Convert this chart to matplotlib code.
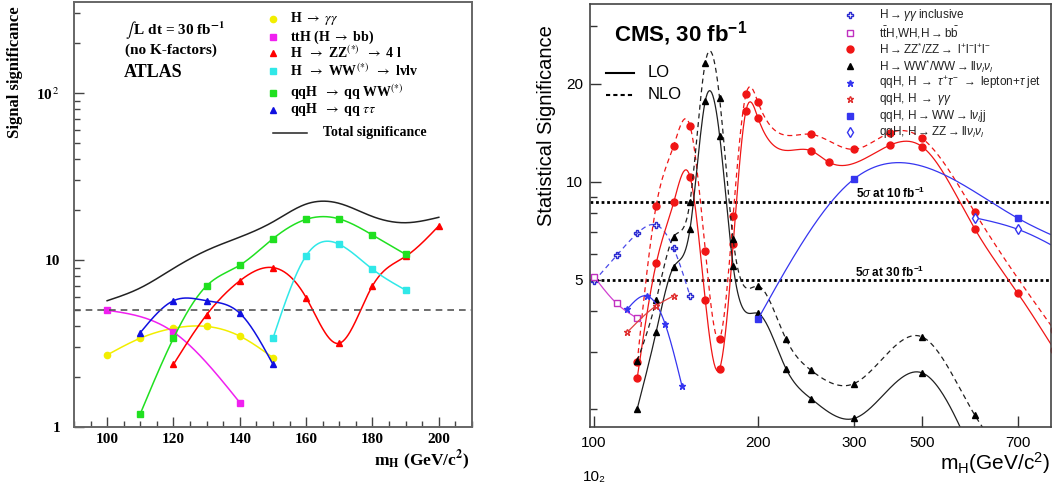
import matplotlib
matplotlib.use('Agg')

import numpy as np
import matplotlib.pyplot as plt
from matplotlib.ticker import LogLocator, NullFormatter, NullLocator, MultipleLocator

plt.rcParams['font.family'] = ['Liberation Sans', 'DejaVu Sans']
plt.rcParams['mathtext.fontset'] = 'custom'
plt.rcParams['mathtext.rm'] = 'Liberation Sans'
plt.rcParams['mathtext.it'] = 'Liberation Sans:italic'
plt.rcParams['mathtext.bf'] = 'Liberation Sans:bold'

# ---------------- ATLAS (left) data ----------------
gg_x = [100, 110, 120, 130, 140, 150]
gg_y = [2.7, 3.4, 3.9, 4.0, 3.5, 2.6]
tth_x = [100, 120, 140]
tth_y = [5.0, 3.7, 1.4]
zz_x = [120, 130, 140, 150, 160, 170, 180, 190, 200]
zz_y = [2.37, 4.7, 7.5, 9.0, 5.95, 3.17, 7.0, 10.5, 16.0]
ww_x = [150, 160, 170, 180, 190]
ww_y = [3.4, 10.6, 12.4, 8.8, 6.6]
qqww_x = [110, 120, 130, 140, 150, 160, 170, 180, 190]
qqww_y = [1.2, 3.4, 7.0, 9.3, 13.4, 17.5, 17.6, 14.1, 10.8]
qqtt_x = [110, 120, 130, 140, 150]
qqtt_y = [3.67, 5.7, 5.7, 4.8, 2.37]
total_x = [100, 110, 120, 130, 140, 150, 160, 170, 180, 190, 200]
total_y = [5.7, 6.8, 8.9, 11.4, 13.7, 16.9, 21.6, 21.8, 18.2, 16.7, 18.0]

# ---------------- CMS (right) data ----------------
c_gginc_x = [100, 110, 120, 130, 140, 150]
c_gginc_y = [4.95, 5.94, 6.94, 7.36, 6.24, 4.46]
c_tthbb_x = [100, 110, 120]
c_tthbb_y = [5.11, 4.23, 3.81]
c_zz_lo_x = [120, 130, 140, 150, 160, 170, 180, 190, 200, 250, 270, 350, 400, 500, 600, 700]
c_zz_lo_y = [2.50, 5.61, 8.64, 10.36, 4.33, 2.67, 6.44, 16.5, 15.66, 12.45, 11.47, 12.96, 12.81, 7.16, 4.54, 3.05]
c_zz_nlo_x = [120, 130, 140, 150, 160, 170, 180, 190, 200, 250, 300, 350, 400, 500, 700]
c_zz_nlo_y = [2.8, 8.44, 12.9, 14.83, 6.14, 3.3, 7.85, 18.55, 17.5, 13.98, 12.57, 14.15, 13.59, 8.05, 3.5]
c_ww_lo_x = [120, 130, 140, 150, 160, 170, 180, 200, 225, 250, 300, 400, 500]
c_ww_lo_y = [2.01, 3.46, 5.48, 7.16, 17.7, 13.85, 5.52, 3.94, 2.67, 2.16, 1.876, 2.59, 1.4]
c_ww_nlo_x = [120, 130, 140, 150, 160, 170, 180, 200, 225, 250, 300, 400, 500, 600]
c_ww_nlo_y = [2.82, 4.33, 6.78, 8.68, 23.2, 18.0, 6.65, 4.78, 3.29, 2.64, 2.40, 3.34, 1.92, 1.3]
c_tau_x = [115, 125, 135, 145]
c_tau_y = [4.06, 4.46, 3.66, 2.36]
c_qqgg_x = [115, 130, 140]
c_qqgg_y = [3.45, 4.16, 4.46]
c_qqww_x = [200, 300, 600, 800]
c_qqww_y = [3.79, 10.19, 7.72, 6.2]
c_qqzz_x = [500, 600, 800]
c_qqzz_y = [7.75, 7.14, 5.53]

cms_xticks = [100, 200, 300, 400, 600]
cms_xlabels = ['100', '200', '300', '500', '700']


def smooth(x, y, logx=False, n=300):
    # natural cubic spline through the points, drawn in the axis coordinates
    u = np.log10(x) if logx else np.asarray(x, float)
    v = np.log10(y)
    k = len(u)
    if k < 3:
        return np.asarray(x), np.asarray(y)
    h = np.diff(u)
    A = np.zeros((k, k))
    r = np.zeros(k)
    A[0, 0] = A[-1, -1] = 1
    for i in range(1, k - 1):
        A[i, i - 1] = h[i - 1]
        A[i, i] = 2 * (h[i - 1] + h[i])
        A[i, i + 1] = h[i]
        r[i] = 3 * ((v[i + 1] - v[i]) / h[i] - (v[i] - v[i - 1]) / h[i - 1])
    c = np.linalg.solve(A, r)
    b = (v[1:] - v[:-1]) / h - h * (2 * c[:-1] + c[1:]) / 3
    d = (c[1:] - c[:-1]) / (3 * h)
    uu = np.linspace(u[0], u[-1], n)
    idx = np.clip(np.searchsorted(u, uu) - 1, 0, k - 2)
    t = uu - u[idx]
    vv = v[idx] + b[idx] * t + c[idx] * t ** 2 + d[idx] * t ** 3
    xx = 10 ** uu if logx else uu
    return xx, 10 ** vv


fig = plt.figure(figsize=(10.58, 4.86), dpi=100)

# ================= left panel =================
axL = fig.add_axes([0.0699, 0.1214, 0.3762, 0.8745])
axL.set_yscale('log')
axL.set_xlim(90, 210)
axL.set_ylim(1, 350)

serif = dict(family='Liberation Serif', weight='bold', math_fontfamily='stix')

atlas_series = [
    (gg_x, gg_y, '#f2ee00', 'o'),
    (tth_x, tth_y, '#f020f0', 's'),
    (zz_x, zz_y, '#ff0000', '^'),
    (ww_x, ww_y, '#30e8e8', 's'),
    (qqww_x, qqww_y, '#20e020', 's'),
    (qqtt_x, qqtt_y, '#1010e0', '^'),
]
for x, y, col, mk in atlas_series:
    sx, sy = smooth(x, y)
    axL.plot(sx, sy, color=col, lw=1.1)
    axL.plot(x, y, ls='none', marker=mk, color=col, ms=4.5, mec=col)
sx, sy = smooth(total_x, total_y)
axL.plot(sx, sy, color='#222222', lw=1.1)
axL.axhline(5, color='#555555', lw=1.2, dashes=(4, 3))

axL.set_xticks(range(100, 201, 20), labels=[str(v) for v in range(100, 201, 20)],
               fontsize=11, **serif)
axL.xaxis.set_minor_locator(MultipleLocator(5))
axL.set_yticks([1, 10, 100], labels=['1', '10', r'10$^{\,2}$'], fontsize=11, **serif)
axL.yaxis.set_minor_locator(LogLocator(subs=np.arange(2, 10)))
axL.yaxis.set_minor_formatter(NullFormatter())
axL.tick_params(which='both', direction='in', color='#444444')
axL.tick_params(which='major', length=7, width=1)
axL.tick_params(which='minor', length=4, width=1)
axL.tick_params(axis='y', pad=10)
axL.tick_params(axis='x', pad=4)
for s in axL.spines.values():
    s.set_color('#666666')
    s.set_linewidth(1.4)

axL.text(0.128, 0.934, r'$\int\,$L dt = 30 fb$^{\mathbf{-1}}$', transform=axL.transAxes,
         va='center', fontsize=11, **serif)
axL.text(0.128, 0.887, '(no K-factors)', transform=axL.transAxes, va='center', fontsize=11, **serif)
axL.text(0.126, 0.833, 'ATLAS', transform=axL.transAxes, va='center', fontsize=13, **serif)

atlas_labels = [
    r'H $\rightarrow$ $\gamma\gamma$',
    r'ttH (H $\rightarrow$ bb)',
    r'H  $\rightarrow$ ZZ$^{(*)}$  $\rightarrow$ 4 l',
    r'H  $\rightarrow$ WW$^{(*)}$  $\rightarrow$ lvlv',
    r'qqH  $\rightarrow$ qq WW$^{(*)}$',
    r'qqH  $\rightarrow$ qq $\tau\tau$',
]
leg_rows = [0.961, 0.918, 0.8807, 0.8376, 0.7866, 0.7459]
for (x, y, col, mk), lab, ry in zip(atlas_series, atlas_labels, leg_rows):
    axL.plot([0.5], [ry], transform=axL.transAxes, marker=mk, color=col, ms=4.5, ls='none')
    axL.text(0.543, ry, lab, transform=axL.transAxes, va='center', fontsize=10, **serif)
axL.plot([0.5, 0.585], [0.6925, 0.6925], transform=axL.transAxes, color='#222222', lw=1.1)
axL.text(0.626, 0.6925, 'Total significance', transform=axL.transAxes, va='center',
         fontsize=10, **serif)

fig.text(15 / 1058, 1 - 72 / 486, 'Signal significance', rotation=90, ha='center',
         va='center', fontsize=12, **serif)
fig.text(470 / 1058, 1 - 460 / 486, r'm$_{\mathbf{H}}$ (GeV/c$^{\mathbf{2}}$)', ha='right',
         va='center', fontsize=12.5, **serif)

# ================= right panel =================
axR = fig.add_axes([0.5577, 0.122, 0.4357, 0.8698])
axR.set_xscale('log')
axR.set_yscale('log')
axR.set_xlim(98.3, 690)
axR.set_ylim(1.77, 35.1)

blue = '#3535f0'
red = '#f01515'

axR.axhline(8.66, color='black', lw=2, ls=(0, (1, 1)))
axR.axhline(5.0, color='black', lw=2, ls=(0, (1, 1)))

cms_lines = [
    (c_gginc_x, c_gginc_y, '#4a4ae8', (0, (4, 3)), 'P', 'none', '#2a2ad0'),
    (c_tthbb_x, c_tthbb_y, '#d040d0', '-', 's', 'white', '#c030c0'),
    (c_zz_lo_x, c_zz_lo_y, red, '-', 'o', red, red),
    (c_zz_nlo_x, c_zz_nlo_y, red, (0, (4, 3)), 'o', red, red),
    (c_ww_lo_x, c_ww_lo_y, '#202020', '-', '^', 'black', 'black'),
    (c_ww_nlo_x, c_ww_nlo_y, '#202020', (0, (4, 3)), '^', 'black', 'black'),
    (c_tau_x, c_tau_y, blue, '-', '*', blue, blue),
    (c_qqgg_x, c_qqgg_y, '#e04040', '-', '*', 'white', '#e03030'),
    (c_qqww_x, c_qqww_y, blue, '-', 's', blue, blue),
    (c_qqzz_x, c_qqzz_y, blue, '-', 'd', 'white', blue),
]
for x, y, col, ls, mk, mfc, mec in cms_lines:
    sx, sy = smooth(x, y, logx=True)
    axR.plot(sx, sy, color=col, lw=0.9, ls=ls)
    ms = 4 if mk == 's' and mfc != 'white' else 5
    axR.plot(x, y, ls='none', marker=mk, ms=ms, mfc=mfc, mec=mec, mew=1)

axR.set_xticks(cms_xticks, labels=cms_xlabels, fontsize=11)
axR.xaxis.set_minor_locator(NullLocator())
axR.set_yticks([5, 10, 20], labels=['5', '10', '20'], fontsize=11)
axR.yaxis.set_minor_locator(LogLocator(subs=np.arange(2, 10)))
axR.yaxis.set_minor_formatter(NullFormatter())
axR.tick_params(which='both', direction='in', color='#333333')
axR.tick_params(which='major', length=8, width=1)
axR.tick_params(which='minor', length=5, width=1)
axR.tick_params(axis='y', pad=5)
axR.tick_params(axis='x', pad=7)
for s in axR.spines.values():
    s.set_color('#444444')
    s.set_linewidth(1.2)

axR.text(0.052, 0.931, r'CMS, 30 fb$^{\mathbf{-1}}$', transform=axR.transAxes, va='center',
         fontsize=16, weight='bold')
axR.plot([0.035, 0.095], [0.8375, 0.8375], transform=axR.transAxes, color='black', lw=1.5)
axR.plot([0.035, 0.095], [0.7847, 0.7847], transform=axR.transAxes, color='black', lw=1.5,
         ls=(0, (2, 1.5)))
axR.text(0.1258, 0.8375, 'LO', transform=axR.transAxes, va='center', fontsize=12)
axR.text(0.1258, 0.7847, 'NLO', transform=axR.transAxes, va='center', fontsize=12)

axR.text(0.577, 0.553, r'5$\sigma$ at 10 fb$^{\mathbf{-1}}$', transform=axR.transAxes,
         va='center', fontsize=8.5, weight='bold')
axR.text(0.575, 0.366, r'5$\sigma$ at 30 fb$^{\mathbf{-1}}$', transform=axR.transAxes,
         va='center', fontsize=8.5, weight='bold')

cms_labels = [
    r'H$\rightarrow\gamma\gamma$ inclusive',
    r't$\bar{\mathrm{t}}$H,WH,H$\rightarrow$b$\bar{\mathrm{b}}$',
    r'H$\rightarrow$ZZ$^{*}$/ZZ$\rightarrow$ l$^{+}$l$^{-}$l$^{+}$l$^{-}$',
    r'H$\rightarrow$WW$^{*}$/WW$\rightarrow$ll$\nu_{l}\nu_{l}$',
    r'qqH, H $\rightarrow$ $\tau^{+}\tau^{-}$ $\rightarrow$ lepton+$\tau$ jet',
    r'qqH, H $\rightarrow$ $\gamma\gamma$',
    r'qqH, H$\rightarrow$WW$\rightarrow$l$\nu_{l}$jj',
    r'qqH, H$\rightarrow$ZZ$\rightarrow$ll$\nu_{l}\nu_{l}$',
]
cms_leg = [cms_lines[i] for i in (0, 1, 2, 4, 6, 7, 8, 9)]
cms_rows = [0.974, 0.9314, 0.8935, 0.8533, 0.8131, 0.7753, 0.735, 0.6972]
for (x, y, col, ls, mk, mfc, mec), lab, ry in zip(cms_leg, cms_labels, cms_rows):
    ms = 4 if mk == 's' and mfc != 'white' else 5
    axR.plot([0.563], [ry], transform=axR.transAxes, ls='none', marker=mk, ms=ms,
             mfc=mfc, mec=mec, mew=1)
    axR.text(0.626, ry, lab, transform=axR.transAxes, va='center', fontsize=8.5, color='#222222')

fig.text(547 / 1058, 1 - 125.5 / 486, 'Statistical Significance', rotation=90, ha='center',
         va='center', fontsize=14.5)
fig.text(1050 / 1058, 1 - 463 / 486, r'm$_{\mathrm{H}}$(GeV/c$^{2}$)', ha='right', va='center',
         fontsize=15)
fig.text(594 / 1058, 1 - 477 / 486, '10\u2082', ha='center', va='center', fontsize=11)

fig.savefig('out.png', dpi=100)
plt.close(fig)
